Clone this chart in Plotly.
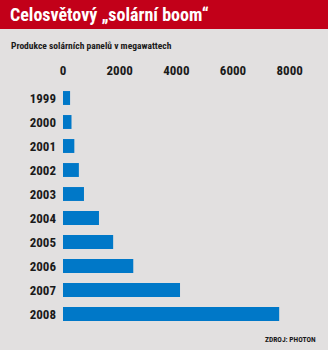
import plotly.graph_objects as go

years = ["1999", "2000", "2001", "2002", "2003", "2004", "2005", "2006", "2007", "2008"]
production_mw = [250, 300, 400, 560, 740, 1270, 1770, 2480, 4130, 7630]
tick_values = [0, 2000, 4000, 6000, 8000]
tick_labels = ["0", "2000", "4000", "6000", "8000"]

title_text = "Celosvětový „solární boom“"
subtitle_text = "Produkce solárních panelů v megawattech"
source_text = "ZDROJ: PHOTON"

RED = "#c20019"
BG = "#e2e0e0"
BLUE = "#0078c8"
FONT = "Liberation Sans Narrow, Roboto Condensed, Roboto, sans-serif"

# plot area: y pixels 86 (paper 1) .. 326 (paper 0); x pixels 63 .. 318
def py(pix):
    return (326 - pix) / 240

def px(pix):
    return (pix - 63) / 255

fig = go.Figure(
    go.Bar(
        x=production_mw,
        y=years,
        orientation="h",
        marker=dict(color=BLUE, line=dict(width=0)),
        hoverinfo="skip",
    )
)

fig.update_layout(
    width=328,
    height=350,
    margin=dict(l=63, r=10, t=86, b=24),
    paper_bgcolor=BG,
    plot_bgcolor=BG,
    bargap=0.42,
    showlegend=False,
    font=dict(family=FONT, color="#1a1a1a"),
    xaxis=dict(
        side="top",
        range=[0, 9000],
        tickvals=tick_values,
        ticktext=tick_labels,
        showgrid=False,
        zeroline=False,
        showline=False,
        ticks="",
        tickfont=dict(family=FONT, size=13, color="#1a1a1a", weight="bold"),
        ticklabelstandoff=7,
        fixedrange=True,
    ),
    yaxis=dict(
        categoryorder="array",
        categoryarray=years,
        autorange="reversed",
        showgrid=False,
        zeroline=False,
        showline=False,
        ticks="",
        tickfont=dict(family=FONT, size=13, color="#1a1a1a", weight="bold"),
        ticklabelstandoff=6,
        fixedrange=True,
    ),
    shapes=[
        dict(type="rect", xref="paper", yref="paper", x0=-1, x1=2,
             y0=py(29), y1=2,
             fillcolor=RED, line=dict(width=0), layer="below"),
    ],
    annotations=[
        dict(text=title_text, xref="paper", yref="paper",
             x=px(8), y=py(15), xanchor="left", yanchor="middle",
             showarrow=False, font=dict(family=FONT, size=18, color="white", weight="bold")),
        dict(text=subtitle_text, xref="paper", yref="paper",
             x=px(9), y=py(46), xanchor="left", yanchor="middle",
             showarrow=False, font=dict(family=FONT, size=9.5, color="#1a1a1a", weight="bold")),
        dict(text=source_text, xref="paper", yref="paper",
             x=px(318), y=py(339), xanchor="right", yanchor="middle",
             showarrow=False, font=dict(family=FONT, size=7.5, color="#1a1a1a", weight="bold")),
    ],
)

fig.write_html("out.html")
